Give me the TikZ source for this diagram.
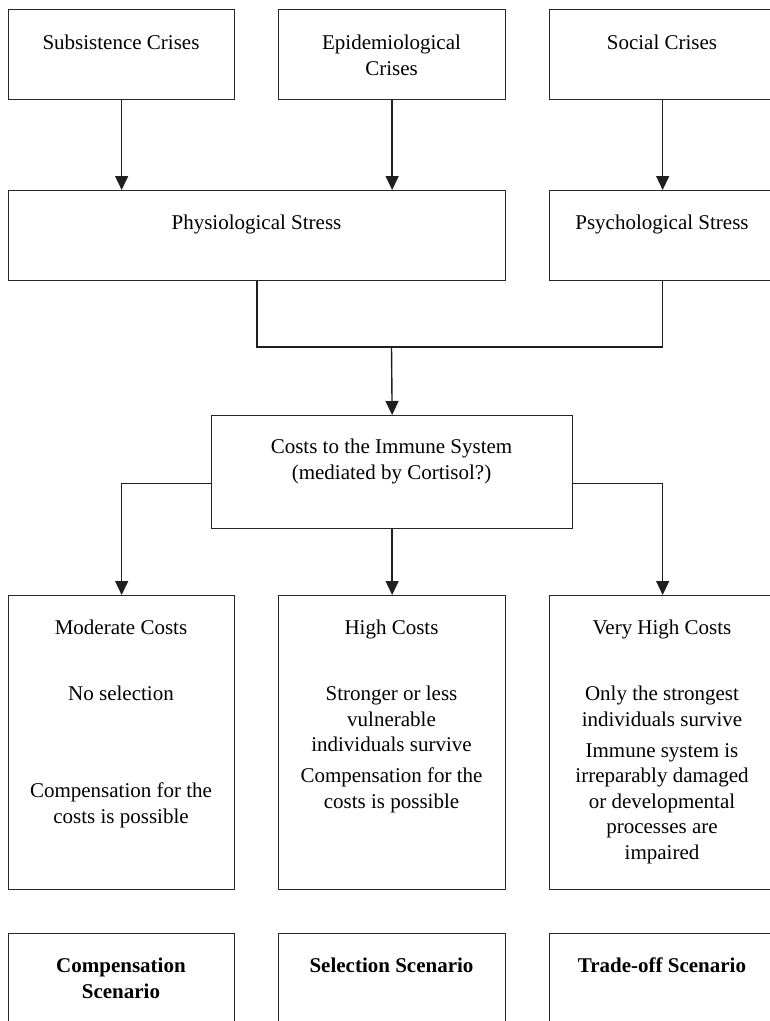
\documentclass[tikz,border=0pt]{standalone}
\usepackage{fontspec}
\setmainfont{Liberation Serif}
\usetikzlibrary{arrows.meta}
\begin{document}
\begin{tikzpicture}[x=1pt,y=-1pt,
  box/.style={draw=black!85, line width=1.3pt, inner sep=0pt, anchor=north west},
  txt/.style={font=\fontsize{21}{25.5}\selectfont, align=center, inner sep=0pt, anchor=north, text=black},
  btxt/.style={txt, font=\fontsize{21}{25.5}\selectfont\bfseries},
  arr/.style={draw=black!88, line width=1.4pt, -{Triangle[length=14pt,width=13pt]}},
  ln/.style={draw=black!88, line width=1.4pt}]
\useasboundingbox (0,0) rectangle (770,1021);
% boxes
\node[box, minimum width=226pt, minimum height=90pt] (sub) at (8,9) {};
\node[box, minimum width=227pt, minimum height=90pt] (epi) at (278,9) {};
\node[box, minimum width=226pt, minimum height=90pt] (soc) at (549,9) {};
\node[box, minimum width=497pt, minimum height=90pt] (phys) at (8,190) {};
\node[box, minimum width=226pt, minimum height=90pt] (psy) at (549,190) {};
\node[box, minimum width=361pt, minimum height=113pt] (cost) at (211,415) {};
\node[box, minimum width=226pt, minimum height=294pt] (mod) at (8,595) {};
\node[box, minimum width=227pt, minimum height=294pt] (high) at (278,595) {};
\node[box, minimum width=226pt, minimum height=294pt] (vhigh) at (549,595) {};
\node[box, minimum width=226pt, minimum height=100pt] (comp) at (8,933) {};
\node[box, minimum width=227pt, minimum height=100pt] (sel) at (278,933) {};
\node[box, minimum width=226pt, minimum height=100pt] (trade) at (549,933) {};
% texts
\node[txt] (tsub) at (121,35) {Subsistence Crises};
\node[txt] (tepi) at (391.5,35) {Epidemiological\\Crises};
\node[txt] (tsoc) at (662,35) {Social Crises};
\node[txt] (tphys) at (256.5,214.5) {Physiological Stress};
\node[txt] (tpsy) at (662,214.5) {Psychological Stress};
\node[txt] (tcost) at (391.5,439) {Costs to the Immune System\\(mediated by Cortisol?)};
\node[txt] (tmod) at (121,620) {Moderate Costs};
\node[txt] (thigh) at (391.5,620) {High Costs};
\node[txt] (tvhigh) at (662,620) {Very High Costs};
\node[txt] (tmod1) at (121,686) {No selection};
\node[txt] (tmod2) at (121,783) {Compensation for the\\costs is possible};
\node[txt] (thigh1) at (391.5,686) {Stronger or less\\vulnerable\\individuals survive};
\node[txt] (thigh2) at (391.5,768) {Compensation for the\\costs is possible};
\node[txt] (tvh1) at (662,686) {Only the strongest\\individuals survive};
\node[txt] (tvh2) at (662,743) {Immune system is\\irreparably damaged\\or developmental\\processes are\\impaired};
\node[btxt] (tcomp) at (121,958) {Compensation\\Scenario};
\node[btxt] (tsel) at (391.5,958) {Selection Scenario};
\node[btxt] (ttrade) at (662,958) {Trade-off Scenario};
% connectors
\coordinate (jm) at (391.5,347);
\draw[arr] (sub.south) -- (sub.south |- phys.north);
\draw[arr] (epi.south) -- (epi.south |- phys.north);
\draw[arr] (soc.south) -- (soc.south |- psy.north);
\draw[ln] (phys.south) |- (jm) -| (psy.south);
\draw[arr] (jm) -- (cost.north);
\draw[arr] ([yshift=-11.5pt]cost.west) -| (mod.north);
\draw[arr] (cost.south) -- (high.north);
\draw[arr] ([yshift=-11.5pt]cost.east) -| (vhigh.north);
\end{tikzpicture}
\end{document}
